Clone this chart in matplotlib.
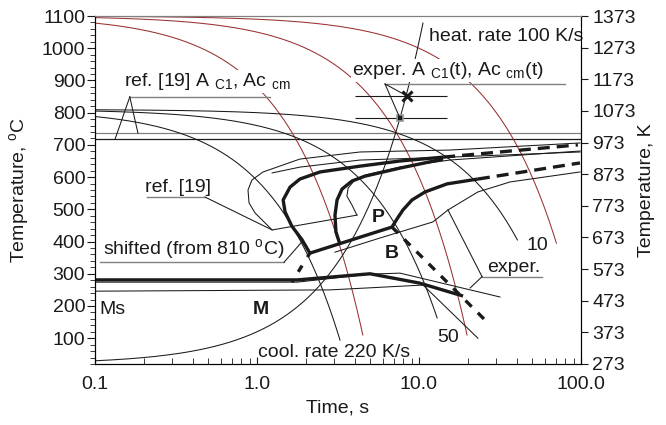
import matplotlib
matplotlib.use('Agg')
import matplotlib.pyplot as plt
from matplotlib.ticker import MultipleLocator, NullFormatter
import numpy as np

plt.rcParams['font.family'] = ['Liberation Sans', 'DejaVu Sans']
plt.rcParams['mathtext.fontset'] = 'custom'
plt.rcParams['mathtext.rm'] = 'Liberation Sans'
plt.rcParams['mathtext.bf'] = 'Liberation Sans:bold'
plt.rcParams['font.size'] = 14

brown = '#9a3030'
grey = '#808080'
ink = '#1a1a1a'

# ref. [19] A_c1 and Ac_cm, degC
A_c1_ref, A_ccm_ref = 718, 737

# cooling lines, K/s, from 1100 degC and from 810 degC (shifted)
rates = [220, 50, 10]
T_aust, T_shift = 1100, 810
brown_end = [110, 110, 395]
black_end = [94, 163, 405]

# heating line
heat_rate, T_room, heat_end = 100, 20, 1078

# experimental A_c1(t), Ac_cm(t)
exp_t = [8.43, 7.63]
exp_T = [852, 783]
exp_tmin, exp_tmax = 4.03, 14.9

# ref. [19] transformation curves (thin)
ref_out_t = [98.6, 15.5, 4.32, 1.84, 1.09, 0.931, 0.880, 0.893, 0.972, 1.24, 4.14]
ref_out_T = [706, 684, 678, 656, 616, 591, 560, 520, 489, 436, 482]
ref_out2_t = [98.6, 15.5, 4.32, 1.84, 1.24]
ref_out2_T = [678, 662, 653, 631, 613]
ref_in_t = [4.14, 3.86, 3.59, 3.65, 3.97, 4.64, 7.63, 15.5, 98.6]
ref_in_T = [482, 513, 541, 566, 588, 606, 631, 653, 681]

# shifted curves (thick)
ps_t = [2.12, 1.90, 1.64, 1.49, 1.45, 1.60, 1.84, 2.45, 4.32, 7.63, 14.1]
ps_T = [364, 405, 448, 492, 529, 569, 594, 616, 634, 650, 662]
ps_ext_t = [14.1, 95.7]
ps_ext_T = [662, 700]
ps2_t = [3.25, 3.07, 3.03, 3.12, 3.35, 3.86, 4.64, 7.63, 14.1]
ps2_T = [392, 430, 482, 529, 563, 588, 603, 628, 656]
pf_t = [2.12, 6.81, 7.31, 7.96, 9.05, 10.9, 14.9, 23.1]
pf_T = [364, 445, 470, 498, 529, 554, 579, 594]
pf_ext_t = [23.1, 98.6]
pf_ext_T = [594, 644]
bs_ext_t = [6.81, 26.7]
bs_ext_T = [445, 147]
low_ext_t = [2.12, 1.64]
low_ext_T = [364, 274]

# experimental curves (thin)
exp_p_t = [3.03, 5.74, 12.2, 15.1, 23.1, 36.5, 98.6]
exp_p_T = [367, 411, 461, 498, 554, 585, 616]
exp_b_t = [0.1, 1.77, 4.99, 7.63, 31.6]
exp_b_T = [274, 274, 299, 302, 228]

# martensite / bainite lower lines
ms_shift_t = [0.1, 1.77, 4.99, 10.1, 18.7]
ms_shift_T = [281, 281, 300, 271, 231]
ms_ref_t = [0.1, 2.82, 10.6, 23.1]
ms_ref_T = [246, 250, 265, 100]

fig = plt.figure(figsize=(6.66, 4.25), dpi=100)
ax = fig.add_axes([0.14264, 0.14353, 0.72973, 0.81882])
ax.set_xscale('log')
ax.set_xlim(0.1, 100)
ax.set_ylim(20, 1100)

thin = dict(color=ink, lw=0.75)
thick = dict(color=ink, lw=2.4, solid_capstyle='butt')

ax.axhline(A_ccm_ref, color=grey, lw=0.9)
ax.axhline(A_c1_ref, color=ink, lw=0.9)

for r, Te in zip(rates, brown_end):
    t = np.geomspace(0.1, (T_aust - Te) / r, 300)
    ax.plot(t, T_aust - r * t, color=brown, lw=0.75)
for r, Te in zip(rates, black_end):
    t = np.geomspace(0.1, (T_shift - Te) / r, 300)
    ax.plot(t, T_shift - r * t, **thin)
t = np.geomspace(0.1, (heat_end - T_room) / heat_rate, 300)
ax.plot(t, T_room + heat_rate * t, **thin)

ax.plot(ref_out_t, ref_out_T, **thin)
ax.plot(ref_out2_t, ref_out2_T, **thin)
ax.plot(ref_in_t, ref_in_T, **thin)
ax.plot(exp_p_t, exp_p_T, **thin)
ax.plot(exp_b_t, exp_b_T, **thin)
ax.plot(ms_ref_t, ms_ref_T, **thin)

ax.plot(ps_t, ps_T, **thick)
ax.plot(ps2_t, ps2_T, **thick)
ax.plot(pf_t, pf_T, **thick)
ax.plot(ms_shift_t, ms_shift_T, **thick)
ax.plot(ps_ext_t, ps_ext_T, ls=(0, (3.6, 2.1)), **thick)
ax.plot(pf_ext_t, pf_ext_T, ls=(0, (3.6, 2.1)), **thick)
ax.plot(bs_ext_t, bs_ext_T, ls=(0, (2.6, 2.6)), **thick)
ax.plot(low_ext_t, low_ext_T, ls=(0.8, (2.2, 3.0)), **thick)

ax.hlines(exp_T, exp_tmin, exp_tmax, color=ink, lw=0.8)
ax.plot(exp_t[0], exp_T[0], 'x', color=ink, ms=7, mew=2.2)
ax.plot(exp_t[1], exp_T[1], 's', mfc=ink, mec='#9a9a9a', ms=5, mew=1.2)


def leader(t0, t1, T, anchor, tips):
    ax.plot([t0, t1], [T, T], color=grey, lw=1.0)
    for tt, TT in tips:
        ax.plot([anchor, tt], [T, TT], **thin)


leader(0.164, 1.20, 849, 0.164, [(0.133, A_c1_ref), (0.184, A_ccm_ref)])
leader(6.17, 79.6, 889, 6.17, list(zip(exp_t, exp_T)))
leader(0.210, 0.478, 538, 0.478, [(1.24, 436)])
leader(0.107, 1.47, 336, 1.47, [(1.90, 400)])
leader(24.5, 57.4, 291, 24.5, [(15.1, 498), (20.7, 256)])

box = dict(facecolor='white', edgecolor='none', pad=1.0)
txt = dict(ha='left', va='baseline', color=ink)
ax.text(0.151, 883, r'ref. [19] A $_{\rm C1}$, Ac $_{\rm cm}$', bbox=box, **txt)
ax.text(3.86, 917, r'exper. A $_{\rm C1}$(t), Ac $_{\rm cm}$(t)', bbox=box, **txt)
ax.text(11.5, 1022, 'heat. rate 100 K/s', bbox=box, **txt)
ax.text(0.204, 554, 'ref. [19]', **txt)
ax.text(0.112, 358, r'shifted (from 810 $^{\rm o}$C)', **txt)
ax.text(0.107, 175, 'Ms', **txt)
ax.text(0.945, 175, 'M', fontweight='bold', **txt)
ax.text(5.13, 461, 'P', fontweight='bold', **txt)
ax.text(6.17, 349, 'B', fontweight='bold', **txt)
ax.text(1.01, 42, 'cool. rate 220 K/s', **txt)
ax.text(12.9, 88, '50', **txt)
ax.text(46.4, 374, '10', **txt)
ax.text(26.3, 305, 'exper.', **txt)

ax.set_xticks([0.1, 1, 10, 100])
ax.set_xticklabels(['0.1', '1.0', '10.0', '100.0'])
ax.xaxis.set_minor_formatter(NullFormatter())
ax.tick_params(axis='x', which='major', direction='in', length=5, pad=9, colors=ink)
ax.tick_params(axis='x', which='minor', direction='in', length=4, colors=ink)
ax.set_yticks(range(100, 1101, 100))
ax.yaxis.set_minor_locator(MultipleLocator(20))
ax.tick_params(axis='y', which='major', direction='out', length=6, pad=1, colors=ink)
ax.tick_params(axis='y', which='minor', direction='out', length=3.5, colors=ink)
ax.spines['top'].set_color(grey)

ax2 = ax.twinx()
ax2.set_ylim(273, 1373)
ax2.set_yticks(range(273, 1374, 100))
ax2.tick_params(axis='y', direction='out', length=5, pad=3, colors=ink)
ax2.spines['top'].set_color(grey)

ax.set_xlabel('Time, s', color=ink)
ax.set_ylabel(r'Temperature, $^{\rm o}$C', color=ink)
ax2.set_ylabel('Temperature, K', color=ink)
ax.xaxis.set_label_coords(0.5, -0.103)
ax.yaxis.set_label_coords(-0.13, 0.5)
ax2.yaxis.set_label_coords(1.117, 0.5)

fig.savefig('out.png', dpi=100)
